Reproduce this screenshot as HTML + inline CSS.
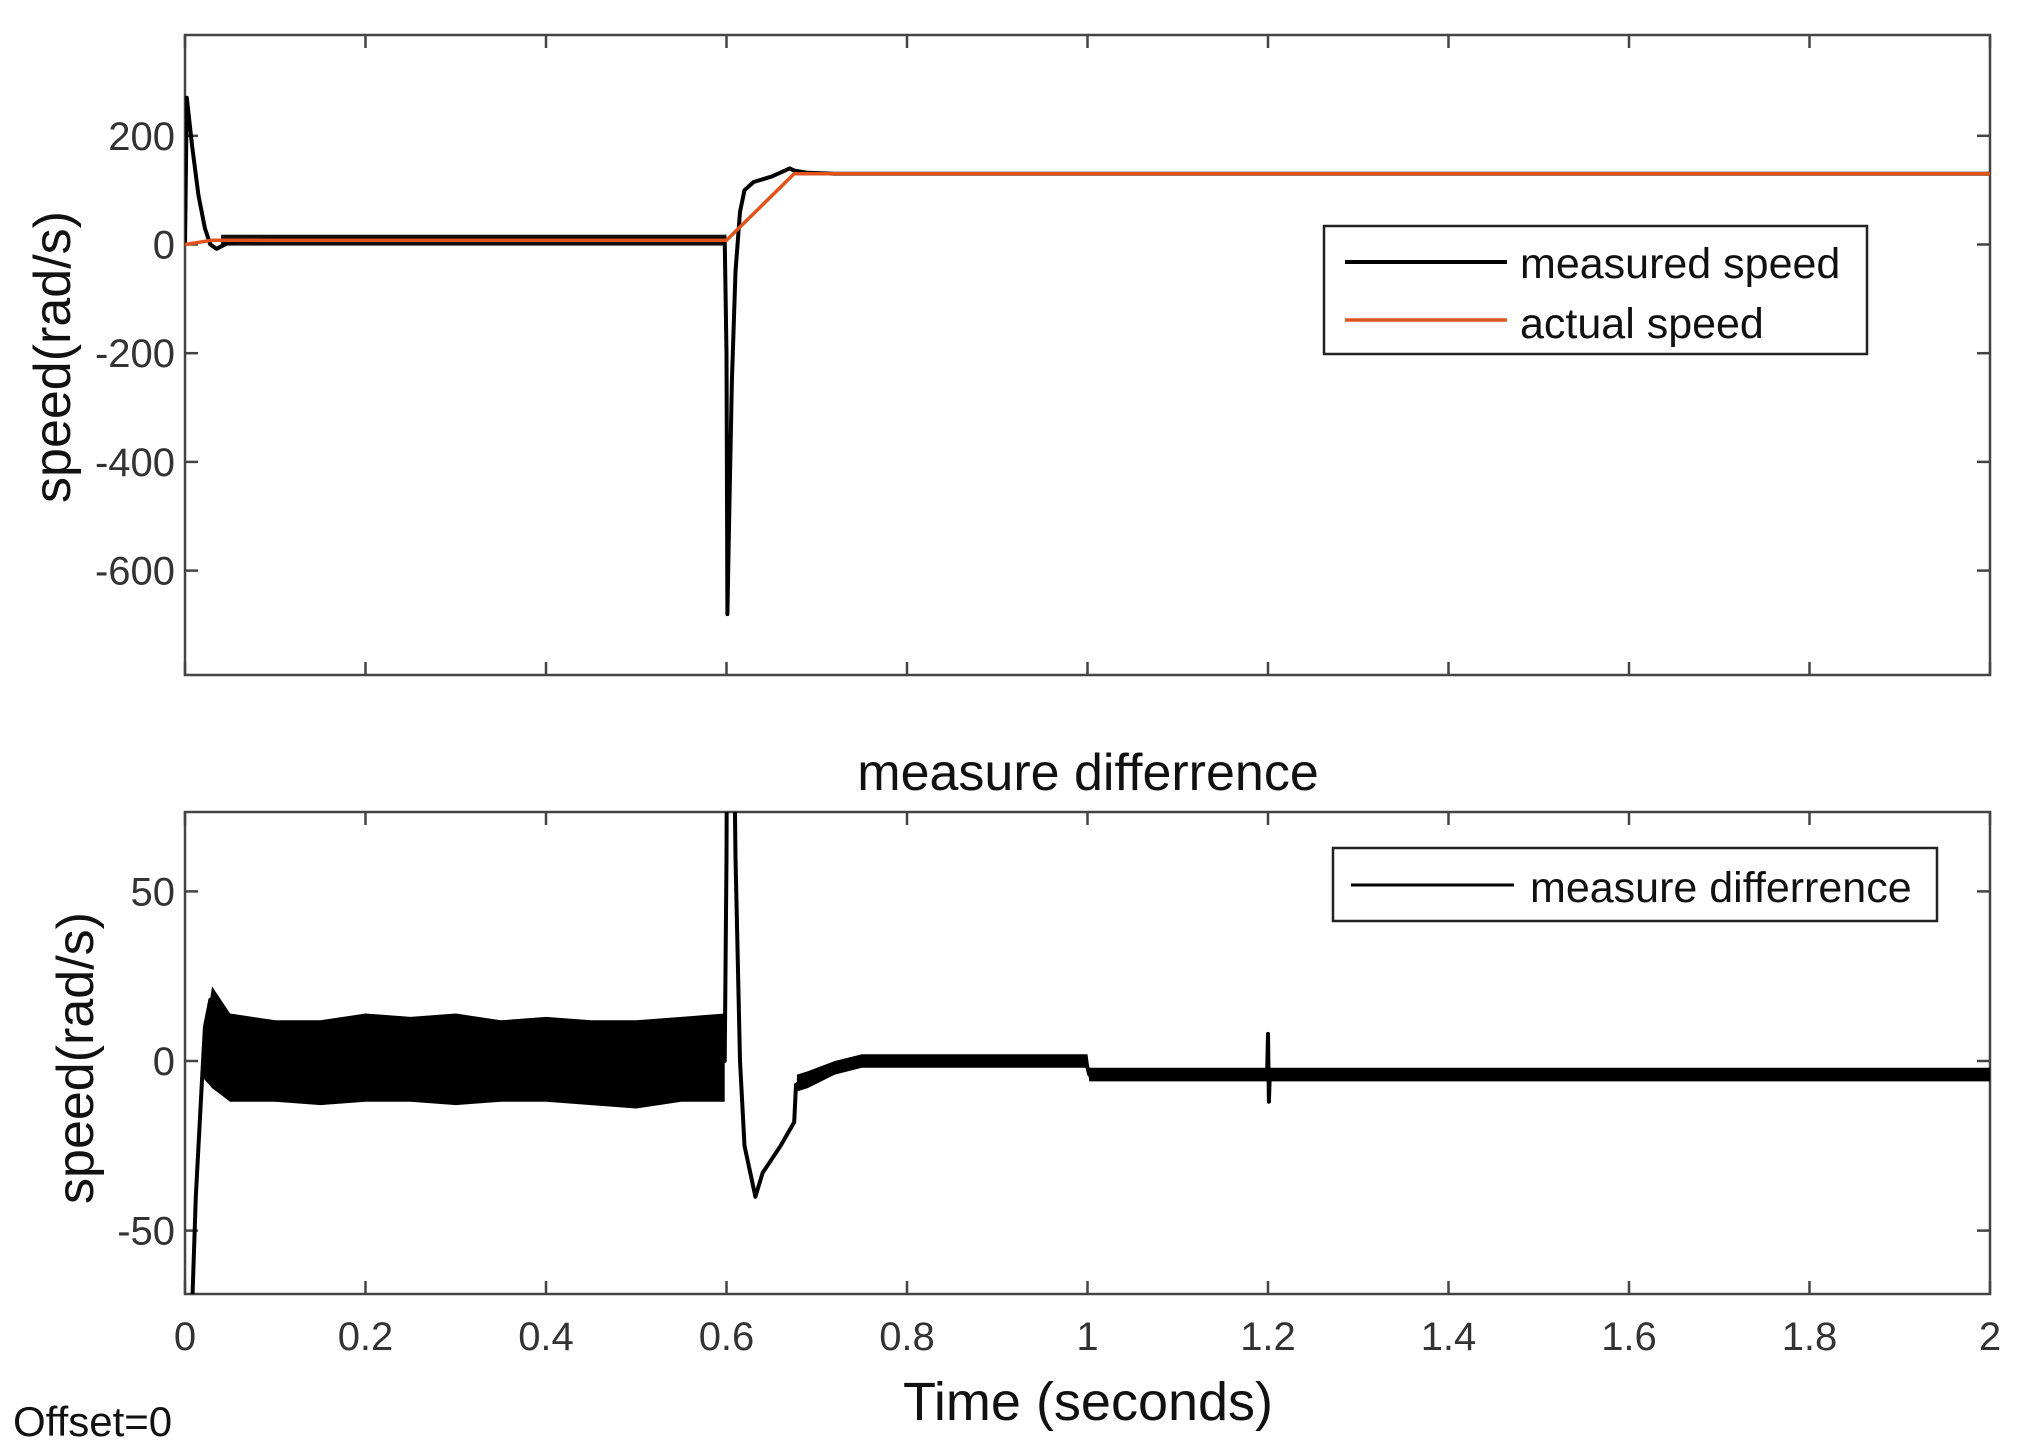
<!DOCTYPE html>
<html><head><meta charset="utf-8"><style>
html,body{margin:0;padding:0;background:#fff;overflow:hidden;}
svg{display:block;font-family:"Liberation Sans",Arial,sans-serif;}
</style></head><body>
<svg id="c" width="2028" height="1456" viewBox="0 0 2028 1456">
<defs>
<clipPath id="clipTop"><rect x="185" y="35" width="1805" height="640"/></clipPath>
<clipPath id="clipBot"><rect x="185" y="812" width="1805" height="482"/></clipPath>
</defs>
<g id="topPanel"></g>
<g id="botPanel"></g>
<text x="1088" y="790" font-size="52" text-anchor="middle" fill="#111">measure differrence</text>
<text x="1088" y="1420" font-size="54" text-anchor="middle" fill="#111">Time (seconds)</text>
<text transform="translate(70,357) rotate(-90)" font-size="52" text-anchor="middle" fill="#111">speed(rad/s)</text>
<text transform="translate(93,1058) rotate(-90)" font-size="52" text-anchor="middle" fill="#111">speed(rad/s)</text>
<text x="13" y="1436" font-size="42" fill="#111">Offset=0</text>
</svg>
<script>
// x ticks
const xTicks = [0,0.2,0.4,0.6,0.8,1,1.2,1.4,1.6,1.8,2];
const xTickLabels = ["0","0.2","0.4","0.6","0.8","1","1.2","1.4","1.6","1.8","2"];
// top panel
const topYTicks = [200,0,-200,-400,-600];
const topYTickLabels = ["200","0","-200","-400","-600"];
const measuredT = [0,0.002,0.008,0.015,0.022,0.028,0.035,0.05,0.1,0.2,0.3,0.4,0.5,0.598,0.6,0.601,0.603,0.606,0.61,0.615,0.62,0.63,0.65,0.67,0.675,0.69,0.72,1.0,1.5,2.0];
const measuredV = [0,270,180,90,30,0,-8,5,10,10,10,10,10,10,-200,-680,-500,-250,-50,60,100,115,125,140,136,132,130,130,130,130];
const measuredNoiseT = [0.04,0.6];
const actualT = [0,0.03,0.6,0.675,2.0];
const actualV = [0,8,8,130,130];
// bottom panel
const botYTicks = [50,0,-50];
const botYTickLabels = ["50","0","-50"];
const diffT = [0,0.007,0.012,0.018,0.022,0.028,0.035,0.05,0.598,0.6,0.602,0.606,0.61,0.615,0.62,0.632,0.64,0.66,0.675,0.677,0.69,0.72,0.75,0.998,1.002,1.199,1.2,1.201,1.202,2.0];
const diffV = [-200,-80,-40,-10,10,18,8,2,0,60,200,150,60,0,-25,-40,-33,-25,-18,-7,-5,-2,0,0,-4,-4,8,-12,-4,-4];
// noise band envelopes, segment 1 (start-up noise)
const band1T = [0.02,0.03,0.05,0.1,0.15,0.2,0.25,0.3,0.35,0.4,0.45,0.5,0.55,0.598];
const band1Up = [5,22,14,12,12,14,13,14,12,13,12,12,13,14];
const band1Lo = [-5,-8,-12,-12,-13,-12,-12,-13,-12,-12,-13,-14,-12,-12];
// segment 2 (steady-state noise)
const band2T = [0.678,0.69,0.72,0.75,1.0,1.002,1.5,2.0];
const band2Up = [-4,-3,0,2,2,-2,-2,-2];
const band2Lo = [-9,-8,-4,-2,-2,-6,-6,-6];

const NS="http://www.w3.org/2000/svg";
function mk(tag,attrs,parent){const e=document.createElementNS(NS,tag);for(const k in attrs)e.setAttribute(k,attrs[k]);parent.appendChild(e);return e;}
const X0=185,X1=1990;
function xs(t){return X0+t*(X1-X0)/2;}
function yTop(v){return 244.5-v*0.5435;}
function yBot(v){return 1061-v*3.392;}

function axes(g,yT,yB,yTicks,yLabels,yf,showX,prefix){
  const r=mk('rect',{x:X0,y:yT,width:X1-X0,height:yB-yT,fill:'none',stroke:'#444','stroke-width':2.5},g);
  
  
  xTicks.forEach((t,i)=>{
    const x=xs(t);
    const a=mk('line',{x1:x,x2:x,y1:yB,y2:yB-13,stroke:'#444','stroke-width':2.5},g);
    
    
    const b=mk('line',{x1:x,x2:x,y1:yT,y2:yT+13,stroke:'#444','stroke-width':2.5},g);
    
    
    if(showX){
      const tx=mk('text',{x:x,y:yB+56,'font-size':40,'text-anchor':'middle',fill:'#333'},g);
      tx.textContent=xTickLabels[i];
      
      
    }
  });
  yTicks.forEach((v,i)=>{
    const y=yf(v);
    const a=mk('line',{x1:X0,x2:X0+13,y1:y,y2:y,stroke:'#444','stroke-width':2.5},g);
    
    
    const b=mk('line',{x1:X1,x2:X1-13,y1:y,y2:y,stroke:'#444','stroke-width':2.5},g);
    
    
    const tx=mk('text',{x:X0-10,y:y+14,'font-size':40,'text-anchor':'end',fill:'#333'},g);
    tx.textContent=yLabels[i];
    
    
  });
}
function poly(T,V,yf){return T.map((t,i)=>xs(t).toFixed(1)+','+yf(V[i]).toFixed(1)).join(' ');}
function bandPoly(T,U,L,yf){
  const up=T.map((t,i)=>xs(t).toFixed(1)+','+yf(U[i]).toFixed(1));
  const lo=[];
  for(let i=T.length-1;i>=0;i--)lo.push(xs(T[i]).toFixed(1)+','+yf(L[i]).toFixed(1));
  return up.concat(lo).join(' ');
}

const topG=document.getElementById('topPanel');
axes(topG,35,675,topYTicks,topYTickLabels,yTop,false,'top');
const tg=mk('g',{'clip-path':'url(#clipTop)'},topG);
const nb=mk('rect',{x:xs(measuredNoiseT[0]),y:yTop(18),width:xs(measuredNoiseT[1])-xs(measuredNoiseT[0]),height:yTop(-2)-yTop(18),fill:'#111'},tg);


const ml=mk('polyline',{points:poly(measuredT,measuredV,yTop),fill:'none',stroke:'#000','stroke-width':4,'stroke-linejoin':'round'},tg);


const al=mk('polyline',{points:poly(actualT,actualV,yTop),fill:'none',stroke:'#e0541c','stroke-width':3.5},tg);


const lg=mk('g',{},topG);


mk('rect',{x:1324,y:226,width:543,height:128,fill:'#fff',stroke:'#222','stroke-width':2.5},lg);
const l1=mk('line',{x1:1345,x2:1507,y1:262,y2:262,stroke:'#000','stroke-width':4},lg);


const t1=mk('text',{x:1520,y:278,'font-size':43,fill:'#111'},lg);t1.textContent='measured speed';


const l2=mk('line',{x1:1345,x2:1507,y1:320,y2:320,stroke:'#e0541c','stroke-width':3.5},lg);


const t2=mk('text',{x:1520,y:338,'font-size':43,fill:'#111'},lg);t2.textContent='actual speed';



const botG=document.getElementById('botPanel');
axes(botG,812,1294,botYTicks,botYTickLabels,yBot,true,'bottom');
const bg=mk('g',{'clip-path':'url(#clipBot)'},botG);
const bp1=mk('polygon',{points:bandPoly(band1T,band1Up,band1Lo,yBot),fill:'#000'},bg);


const bp2=mk('polygon',{points:bandPoly(band2T,band2Up,band2Lo,yBot),fill:'#000'},bg);


const dl=mk('polyline',{points:poly(diffT,diffV,yBot),fill:'none',stroke:'#000','stroke-width':4,'stroke-linejoin':'round'},bg);


const lg2=mk('g',{},botG);


mk('rect',{x:1333,y:848,width:604,height:73,fill:'#fff',stroke:'#222','stroke-width':2.5},lg2);
const l3=mk('line',{x1:1351,x2:1514,y1:885,y2:885,stroke:'#000','stroke-width':3},lg2);


const t3=mk('text',{x:1530,y:902,'font-size':43,fill:'#111'},lg2);t3.textContent='measure differrence';


</script>
</body></html>
